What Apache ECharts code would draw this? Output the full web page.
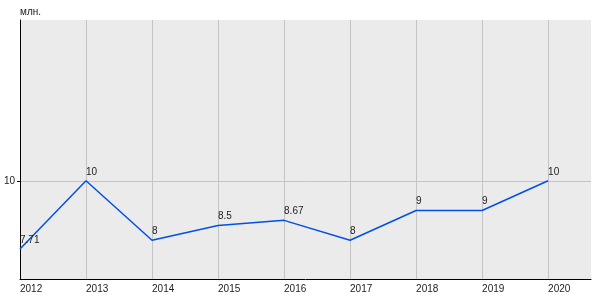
<!DOCTYPE html>
<html><head><meta charset="utf-8">
<script src="https://cdn.jsdelivr.net/npm/echarts@6/dist/echarts.min.js"></script>
<style>html,body{margin:0;padding:0;background:#fff}#c{width:600px;height:300px}</style>
</head><body><div id="c"></div>
<script>
const years = [2012, 2013, 2014, 2015, 2016, 2017, 2018, 2019, 2020];
const values = [7.71, 10, 8, 8.5, 8.67, 8, 9, 9, 10];
const yTicks = [10];
const yName = 'млн.';

const chart = echarts.init(document.getElementById('c'), null, {renderer: 'canvas'});
const font = 'Liberation Sans, Arial, sans-serif';
chart.setOption({
  animation: false,
  grid: {left: 20, top: 20, right: 9, bottom: 21, show: true, backgroundColor: '#ebebeb', borderWidth: 0},
  xAxis: {
    type: 'value', min: 2012, max: 2020.65,
    axisLine: {show: true, onZero: false, lineStyle: {color: '#000', width: 1}},
    axisTick: {show: false, customValues: years},
    axisLabel: {customValues: years, color: '#222', fontFamily: font, fontSize: 10, align: 'left', margin: 5, formatter: v => String(v)},
    splitLine: {show: true, lineStyle: {color: '#c4c4c4', width: 1}}
  },
  yAxis: {
    type: 'value', min: 6.7, max: 15.4,
    name: yName, nameLocation: 'end', nameGap: 3,
    nameTextStyle: {color: '#222', fontFamily: font, fontSize: 10, align: 'left', verticalAlign: 'bottom'},
    axisLine: {show: true, onZero: false, lineStyle: {color: '#000', width: 1}},
    axisTick: {show: true, length: 3, inside: false, customValues: yTicks, lineStyle: {color: '#000'}},
    axisLabel: {customValues: yTicks, color: '#222', fontFamily: font, fontSize: 10, margin: 5},
    splitLine: {show: true, lineStyle: {color: '#c4c4c4', width: 1}}
  },
  series: [{
    type: 'line',
    data: years.map((y, i) => [y, values[i]]),
    showSymbol: true, symbol: 'circle', symbolSize: 0,
    lineStyle: {color: '#0050e6', width: 1.5},
    itemStyle: {color: '#0050e6'},
    label: {show: true, position: 'top', align: 'left', distance: 4, color: '#222', fontFamily: font, fontSize: 10,
      formatter: p => String(p.value[1])},
    z: 3
  }]
});
</script></body></html>
